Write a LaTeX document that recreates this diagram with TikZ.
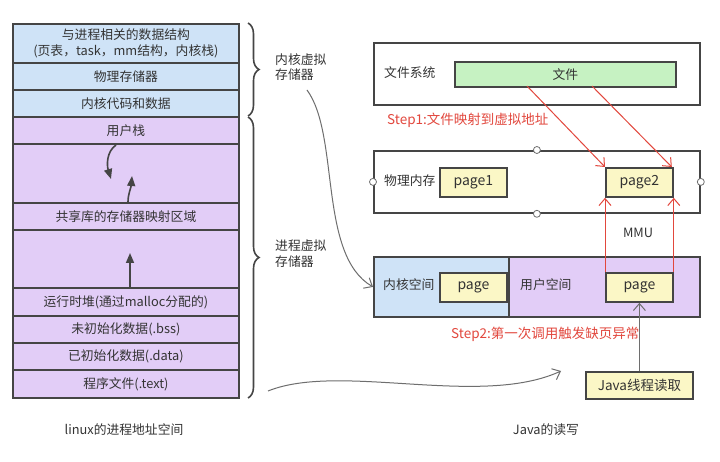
\documentclass[tikz,border=0pt]{standalone}
\usepackage{fontspec}
\setmainfont{Noto Sans CJK SC}
\usetikzlibrary{arrows.meta,decorations.pathreplacing}
\definecolor{kblue}{HTML}{CFE3F7}
\definecolor{upurple}{HTML}{E2CDF7}
\definecolor{fgreen}{HTML}{C6F2C2}
\definecolor{pyellow}{HTML}{FBF7C6}
\definecolor{edge}{HTML}{454545}
\definecolor{txt}{HTML}{333333}
\definecolor{stepred}{HTML}{E2473D}
\definecolor{curvegray}{HTML}{6E6E6E}
\begin{document}
\begin{tikzpicture}[x=1pt,y=-1pt,
  box/.style={draw=edge, line width=1.8pt, anchor=north west, inner sep=0pt,
    text=txt, font=\fontsize{12.8}{16}\selectfont, align=center},
  row/.style={box, minimum width=226pt},
  pagebox/.style={box, fill=pyellow, minimum width=67pt, minimum height=29pt, font=\fontsize{14}{16}\selectfont},
  lbl/.style={text=txt, font=\fontsize{12.8}{16}\selectfont, inner sep=0pt, align=left},
  steplbl/.style={text=stepred, font=\fontsize{13.5}{16}\selectfont, inner sep=0pt, anchor=west},
  redarrow/.style={draw=stepred, line width=1pt, -{Straight Barb[length=7pt,width=12pt]}},
  grayarrow/.style={draw=curvegray, line width=1pt, -{Straight Barb[length=7pt,width=12pt]}},
  blackarrow/.style={draw=edge, line width=1.6pt, -{Triangle[length=10pt,width=8pt]}},
  bracestyle/.style={draw=edge, line width=1.6pt, decorate, decoration={brace, amplitude=11pt}},
  dot/.style={circle, draw=curvegray, fill=white, line width=0.8pt, inner sep=0pt, minimum size=7pt}
]
\useasboundingbox[fill=white] (0,0) rectangle (720,462);

% ---- left column ----
\node[row, fill=kblue, minimum height=39pt] (r1) at (12,23) {与进程相关的数据结构\\(页表，task，mm结构，内核栈)};
\node[row, fill=kblue, minimum height=27pt] (r2) at (12,62) {物理存储器};
\node[row, fill=kblue, minimum height=27pt] (r3) at (12,89) {内核代码和数据};
\node[row, fill=upurple, minimum height=27pt] (r4) at (12,116) {用户栈};
\node[row, fill=upurple, minimum height=59pt] (r5) at (12,143) {};
\node[row, fill=upurple, minimum height=27pt] (r6) at (12,202) {共享库的存储器映射区域};
\node[row, fill=upurple, minimum height=58pt] (r7) at (12,229) {};
\node[row, fill=upurple, minimum height=28pt] (r8) at (12,287) {运行时堆(通过malloc分配的)};
\node[row, fill=upurple, minimum height=27pt] (r9) at (12,315) {未初始化数据(.bss)};
\node[row, fill=upurple, minimum height=27pt] (r10) at (12,342) {已初始化数据(.data)};
\node[row, fill=upurple, minimum height=28pt] (r11) at (12,369) {程序文件(.text)};

\coordinate (s1) at (116,145);
\coordinate (s1e) at (111,179);
\draw[blackarrow] (s1) .. controls (106,152) and (107,166) .. (s1e);
\coordinate (s2e) at (132,176);
\draw[blackarrow] (r6.north -| 128,0) .. controls (128,194) and (131,188) .. (s2e);
\coordinate (hp) at (130,253);
\draw[blackarrow] (r8.north -| 130,0) -- (hp);

% braces
\coordinate (b1a) at (248,23);
\coordinate (b1b) at (248,116);
\coordinate (b2a) at (248,117);
\coordinate (b2b) at (248,398);
\draw[bracestyle] (b1a) -- (b1b);
\draw[bracestyle] (b2a) -- (b2b);
\node[lbl, anchor=north west] (kv) at (275,53) {内核虚拟\\存储器};
\node[lbl, anchor=north west] (pv) at (275,240) {进程虚拟\\存储器};

\node[lbl, anchor=center] (lcap) at (124,430) {linux的进程地址空间};

% ---- right side ----
\node[box, minimum width=326pt, minimum height=62pt] (fs) at (373,42) {};
\node[lbl, anchor=west] (fsl) at (384,73) {文件系统};
\node[box, fill=fgreen, minimum width=221pt, minimum height=25pt] (file) at (454,61) {文件};

\node[steplbl] (st1) at (387,120) {Step1:文件映射到虚拟地址};

\node[box, minimum width=326pt, minimum height=62pt] (phys) at (373,150) {};
\node[lbl, anchor=west] (pml) at (384,181) {物理内存};
\node[pagebox] (page1) at (439,167) {page1};
\node[pagebox] (page2) at (605,167) {page2};
\node[dot] (d1) at (phys.north) {};
\node[dot] (d2) at (phys.south) {};
\node[dot] (d3) at (phys.west) {};
\node[dot] (d4) at (phys.east) {};

\node[lbl, anchor=center] (mmu) at (638,233) {MMU};

\node[box, fill=kblue, minimum width=135pt, minimum height=60pt] (ks) at (373,256) {};
\node[box, fill=upurple, minimum width=191pt, minimum height=60pt] (us) at (508,256) {};
\node[lbl, anchor=west] (ksl) at (383,285) {内核空间};
\node[lbl, anchor=west] (usl) at (520,285) {用户空间};
\node[pagebox] (kpage) at (439,272) {page};
\node[pagebox] (upage) at (605,272) {page};

\node[steplbl] (st2) at (451,334) {Step2:第一次调用触发缺页异常};

\node[box, fill=pyellow, minimum width=107pt, minimum height=27pt, font=\fontsize{13.5}{16}\selectfont] (java) at (585,371) {Java线程读取};

\node[lbl, anchor=center] (rcap) at (546,430) {Java的读写};

% red mapping arrows
\coordinate (f1) at (527,86);
\coordinate (f2) at (592,86);
\draw[redarrow] (f1) -- (page2.north west);
\draw[redarrow] (f2) -- ([xshift=-2pt]page2.north east);
\draw[redarrow] (upage.north west) -- (page2.south west);
\draw[redarrow] (upage.north east) -- (page2.south east);

% gray arrows
\draw[grayarrow] (java.north) -- (upage.south);
\coordinate (c1) at (307,90);
\draw[grayarrow] (c1) .. controls (340,135) and (318,255) .. (ks.west);
\coordinate (c2s) at (268,391);
\coordinate (c2e) at (561,371);
\draw[grayarrow] (c2s) .. controls (340,362) and (480,408) .. (c2e);
\end{tikzpicture}
\end{document}
